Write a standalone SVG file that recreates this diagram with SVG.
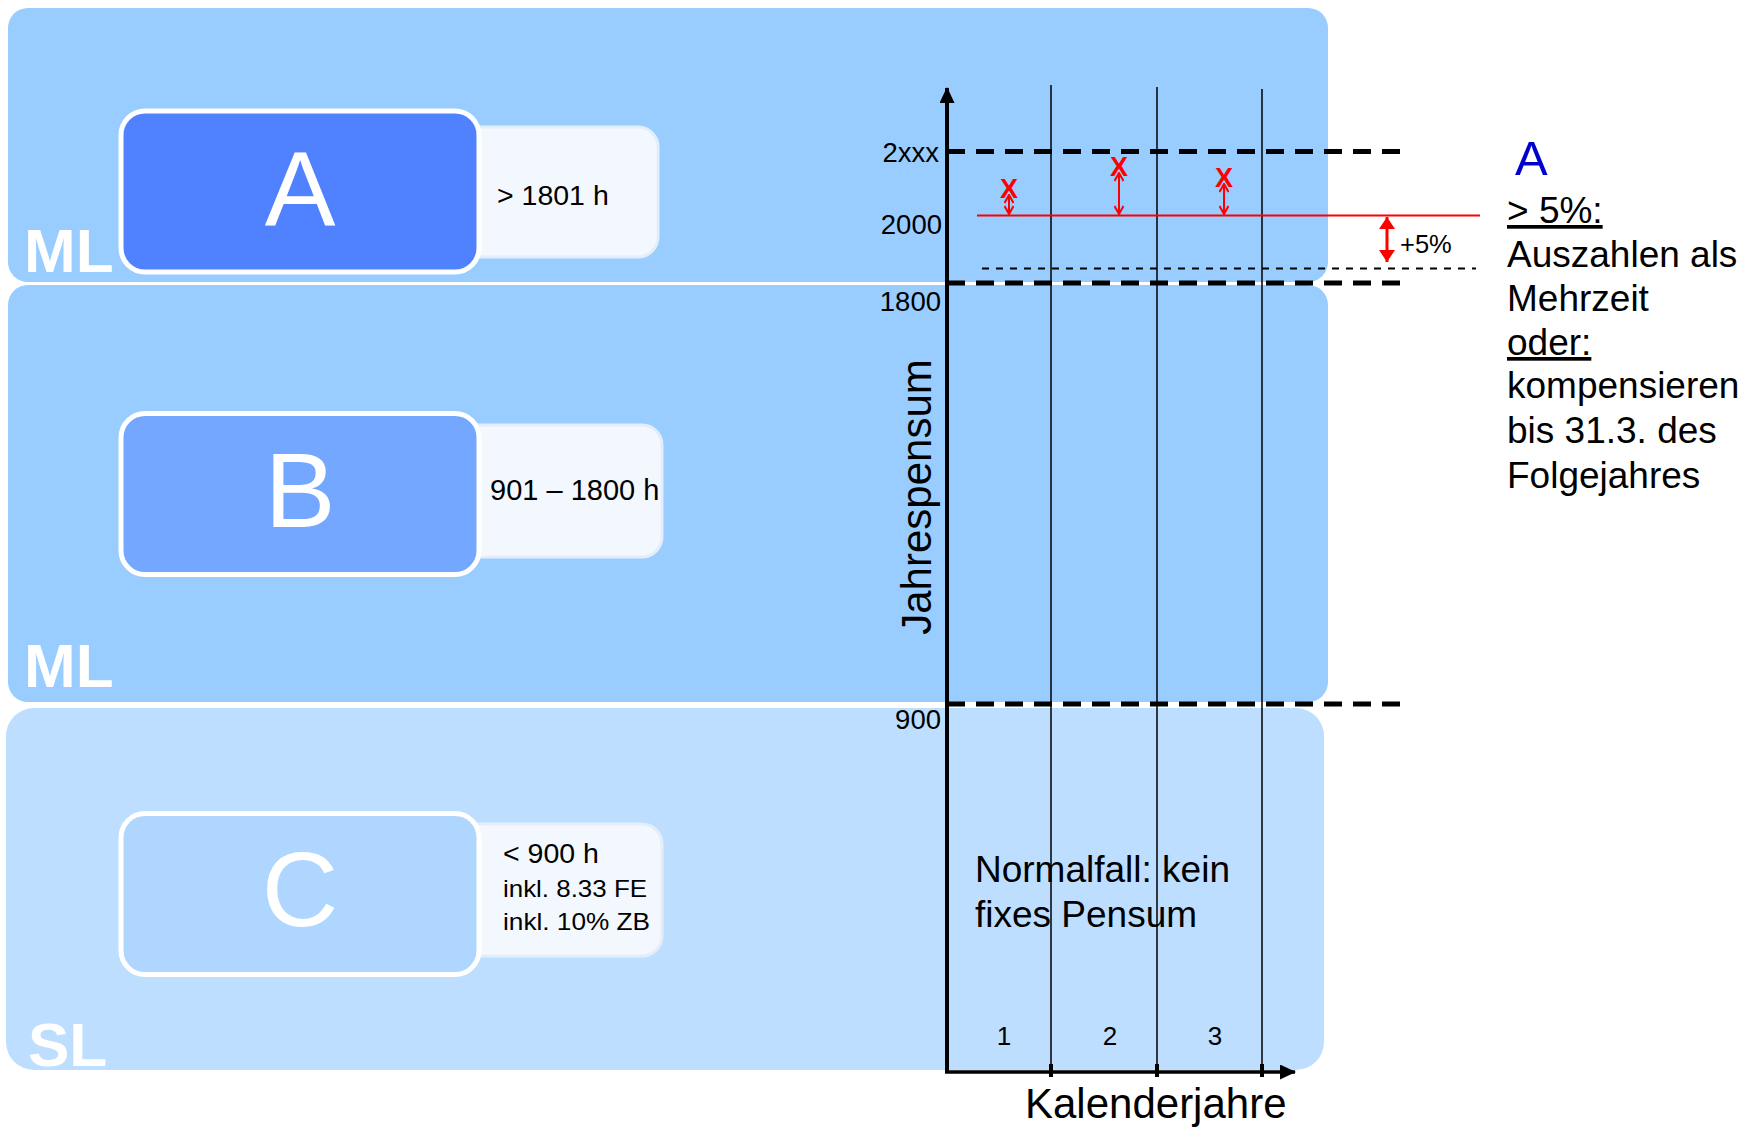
<svg xmlns="http://www.w3.org/2000/svg" width="1747" height="1127" viewBox="0 0 1747 1127">
<defs>
<style>
.t{font-family:"Liberation Sans",Arial,sans-serif;fill:#000}
.band{fill:#99CCFF}
.band3{fill:#BDDEFF}
.lvl{font-family:"Liberation Sans",Arial,sans-serif;font-weight:bold;font-size:62px;fill:#fff}
.box{stroke:#fff;stroke-width:5}
.info{fill:#F3F8FF;stroke:#E4EEFA;stroke-width:3}
.big{font-family:"Liberation Sans",Arial,sans-serif;font-size:106px;fill:#fff;text-anchor:middle}
.inf{font-family:"Liberation Sans",Arial,sans-serif;font-size:28.5px;fill:#000}
.ax{font-family:"Liberation Sans",Arial,sans-serif;font-size:27.5px;fill:#000;text-anchor:end}
.thick{stroke:#000;stroke-width:5;stroke-dasharray:18 11;fill:none}
.vl{stroke:#000;stroke-width:1.5;fill:none}
.red{stroke:#FF0000;fill:none}
.xm{font-family:"Liberation Sans",Arial,sans-serif;font-weight:bold;font-size:27px;fill:#FF0000;text-anchor:middle}
.rt{font-family:"Liberation Sans",Arial,sans-serif;font-size:37px;fill:#000}
</style>
<marker id="ahBlack" viewBox="0 0 16 15" refX="15" refY="7.5" markerWidth="16" markerHeight="15" markerUnits="userSpaceOnUse" orient="auto">
<path d="M0,0 L16,7.5 L0,15 z" fill="#000"/>
</marker>
<marker id="ahRedFill" viewBox="0 0 12 16" refX="12" refY="8" markerWidth="12" markerHeight="16" markerUnits="userSpaceOnUse" orient="auto-start-reverse">
<path d="M0,0 L12,8 L0,16 z" fill="#FF0000"/>
</marker>
<marker id="ahRedOpen" viewBox="0 0 10 10" refX="9" refY="5" markerWidth="10" markerHeight="10" markerUnits="userSpaceOnUse" orient="auto-start-reverse">
<path d="M1,0.5 L9,5 L1,9.5" fill="none" stroke="#FF0000" stroke-width="2"/>
</marker>
</defs>
<rect width="1747" height="1127" fill="#fff"/>

<g id="band-ml-top">
<rect class="band" x="8" y="8" width="1320" height="274" rx="20"/>
<text class="lvl" x="24" y="272">ML</text>
</g>
<g id="band-ml-mid">
<rect class="band" x="8" y="285" width="1320" height="417" rx="20"/>
<text class="lvl" x="24" y="687">ML</text>
</g>
<g id="band-sl">
<rect class="band3" x="6" y="708" width="1318" height="362" rx="28"/>
<text class="lvl" x="28" y="1066">SL</text>
</g>

<g id="node-A">
<rect class="info" x="440" y="127" width="218" height="130" rx="20"/>
<rect class="box" x="121" y="111" width="358" height="161" rx="24" fill="#5082FF"/>
<text class="big" x="300" y="225">A</text>
<text class="inf" x="497" y="205">&gt; 1801 h</text>
</g>
<g id="node-B">
<rect class="info" x="440" y="425" width="222" height="132" rx="20"/>
<rect class="box" x="121" y="413.5" width="358" height="161" rx="24" fill="#74A7FF"/>
<text class="big" x="300" y="527">B</text>
<text class="inf" x="490" y="500" style="font-size:29px">901 – 1800 h</text>
</g>
<g id="node-C">
<rect class="info" x="440" y="824" width="222" height="132" rx="20"/>
<rect class="box" x="121" y="813.5" width="358" height="161" rx="24" fill="#AED6FF"/>
<text class="big" x="300" y="926">C</text>
<text class="inf" x="503" y="863">&lt; 900 h</text>
<text class="inf" x="503" y="897" style="font-size:24px" textLength="144" lengthAdjust="spacingAndGlyphs">inkl. 8.33 FE</text>
<text class="inf" x="503" y="930" style="font-size:24px" textLength="147" lengthAdjust="spacingAndGlyphs">inkl. 10% ZB</text>
</g>

<g id="connectors">
<line class="thick" x1="947" y1="151.5" x2="1401" y2="151.5"/>
<line class="thick" x1="947" y1="283" x2="1401" y2="283"/>
<line class="thick" x1="947" y1="704" x2="1401" y2="704"/>
<line x1="982" y1="268.5" x2="1476" y2="268.5" stroke="#000" stroke-width="2" stroke-dasharray="7 7"/>
<line class="vl" x1="1051" y1="85" x2="1051" y2="1077"/>
<line class="vl" x1="1157" y1="87" x2="1157" y2="1077"/>
<line class="vl" x1="1262" y1="89" x2="1262" y2="1077"/>
<rect x="1049" y="1064" width="4" height="13" fill="#000"/>
<rect x="1155" y="1064" width="4" height="13" fill="#000"/>
<rect x="1260" y="1064" width="4" height="13" fill="#000"/>
<line x1="947" y1="1072" x2="947" y2="88" stroke="#000" stroke-width="4" marker-end="url(#ahBlack)"/>
<line x1="945" y1="1072" x2="1295" y2="1072" stroke="#000" stroke-width="3.5" marker-end="url(#ahBlack)"/>
<line class="red" x1="977" y1="215.5" x2="1480" y2="215.5" stroke-width="2"/>
<line class="red" x1="1387" y1="217" x2="1387" y2="262" stroke-width="3" marker-start="url(#ahRedFill)" marker-end="url(#ahRedFill)"/>
<line class="red" x1="1009" y1="195" x2="1009" y2="214" stroke-width="2" marker-start="url(#ahRedOpen)" marker-end="url(#ahRedOpen)"/>
<line class="red" x1="1119" y1="173" x2="1119" y2="214" stroke-width="2" marker-start="url(#ahRedOpen)" marker-end="url(#ahRedOpen)"/>
<line class="red" x1="1224" y1="184" x2="1224" y2="214" stroke-width="2" marker-start="url(#ahRedOpen)" marker-end="url(#ahRedOpen)"/>
</g>

<g id="chart-labels">
<text class="xm" x="1009" y="198">X</text>
<text class="xm" x="1119" y="176">X</text>
<text class="xm" x="1224" y="187">X</text>
<text class="t" x="1400" y="253" style="font-size:25.5px">+5%</text>
<text class="ax" x="939" y="162">2xxx</text>
<text class="ax" x="942" y="234">2000</text>
<text class="ax" x="941" y="311">1800</text>
<text class="ax" x="941" y="729">900</text>
<text class="t" transform="translate(931,497) rotate(-90)" text-anchor="middle" style="font-size:42px">Jahrespensum</text>
<text class="t" x="1025" y="1118" style="font-size:42px">Kalenderjahre</text>
<text class="t" x="1004" y="1045" text-anchor="middle" style="font-size:26px">1</text>
<text class="t" x="1110" y="1045" text-anchor="middle" style="font-size:26px">2</text>
<text class="t" x="1215" y="1045" text-anchor="middle" style="font-size:26px">3</text>
<text class="rt" x="975" y="882">Normalfall: kein</text>
<text class="rt" x="975" y="927">fixes Pensum</text>
</g>

<g id="note-A">
<text x="1515" y="175" style="font-family:'Liberation Sans',Arial,sans-serif;font-size:49px;fill:#0000CC">A</text>
<text class="rt" x="1507" y="223" text-decoration="underline">&gt; 5%:</text>
<text class="rt" x="1507" y="267">Auszahlen als</text>
<text class="rt" x="1507" y="311">Mehrzeit</text>
<text class="rt" x="1507" y="355" text-decoration="underline">oder:</text>
<text class="rt" x="1507" y="398">kompensieren</text>
<text class="rt" x="1507" y="443">bis 31.3. des</text>
<text class="rt" x="1507" y="488">Folgejahres</text>
</g>
</svg>
